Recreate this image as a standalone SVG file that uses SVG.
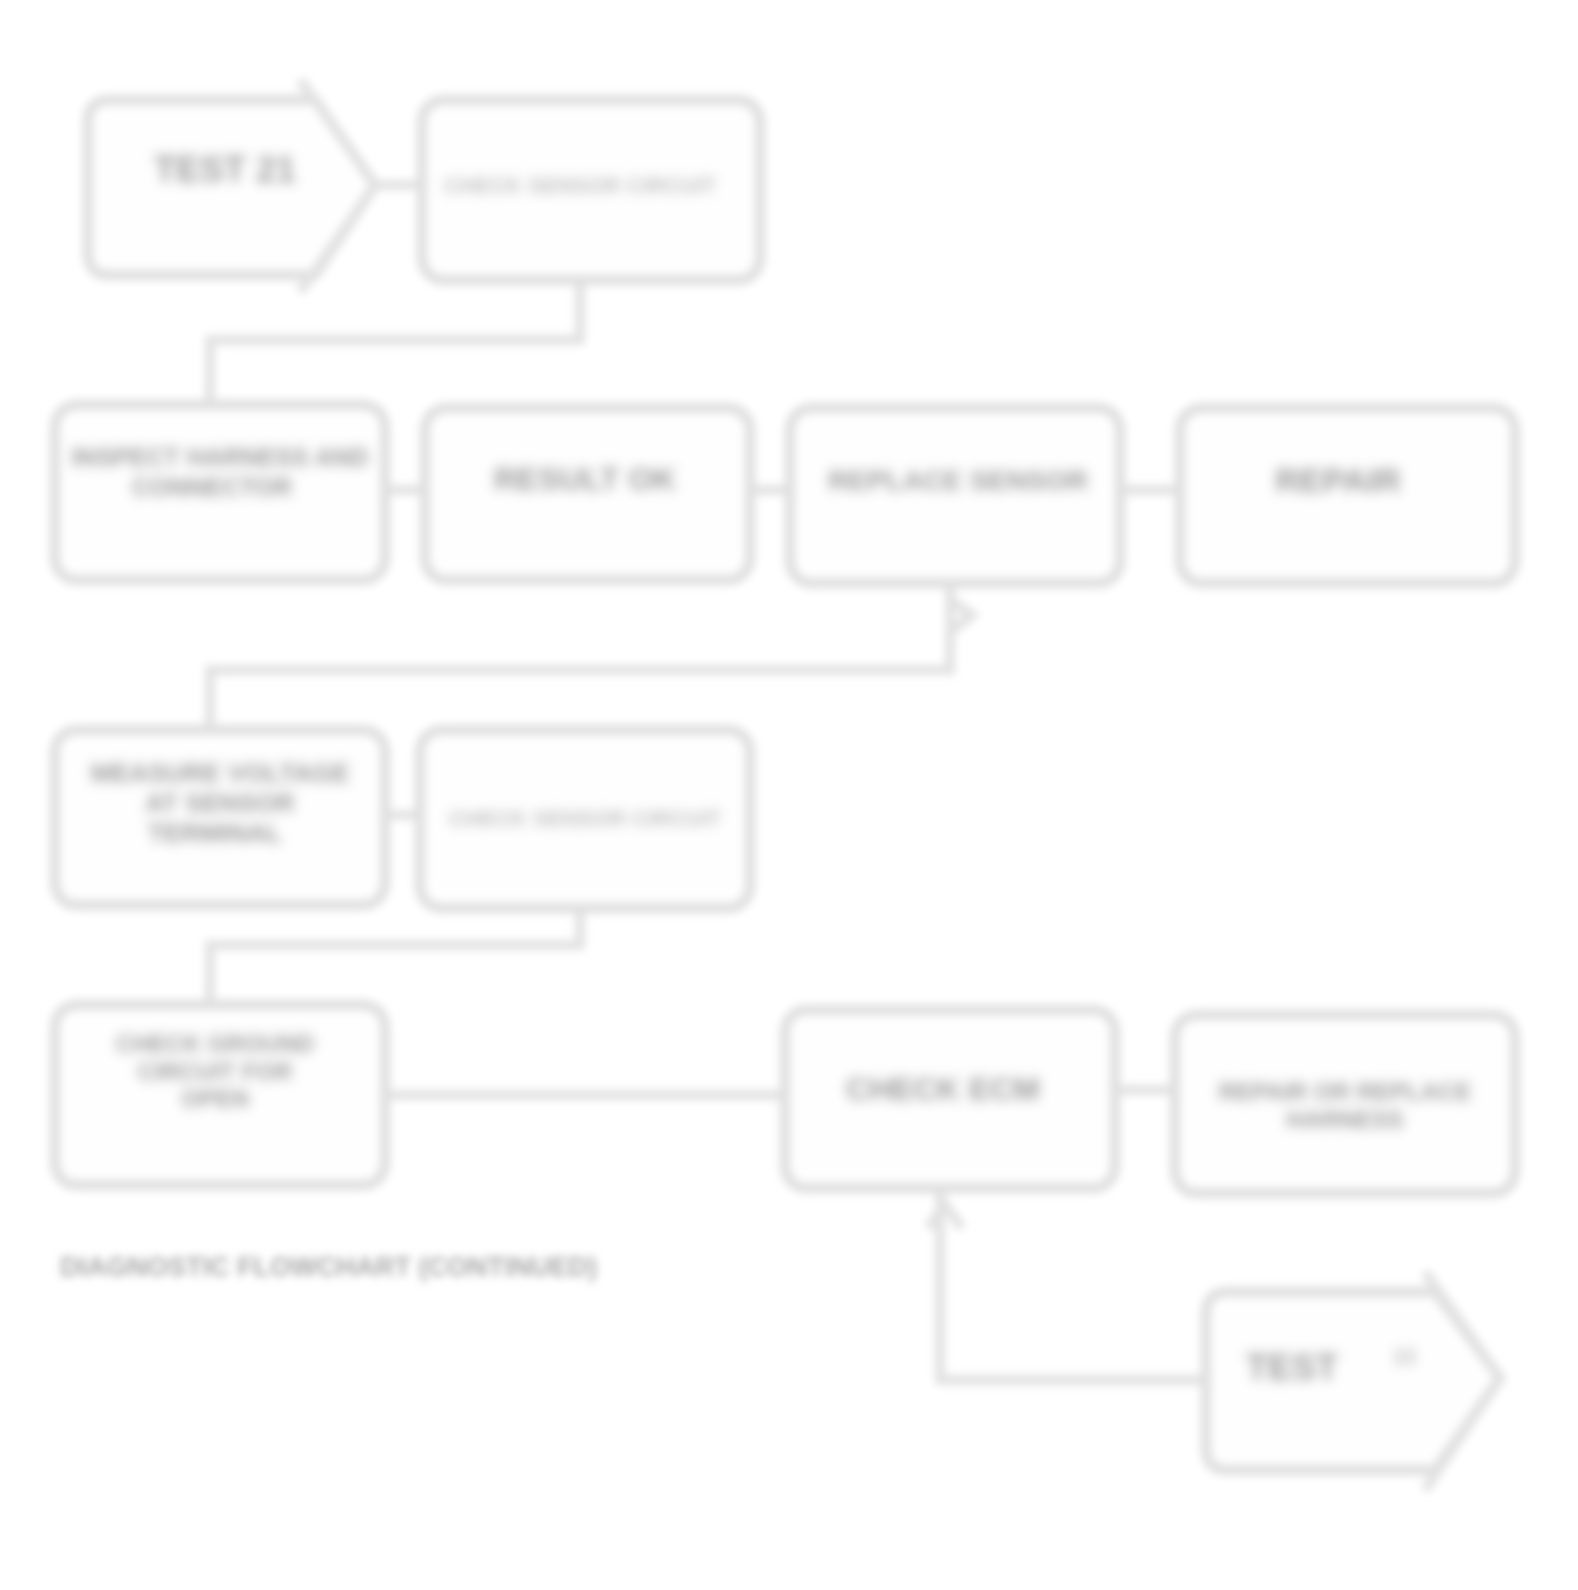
<svg xmlns="http://www.w3.org/2000/svg" width="1578" height="1590" viewBox="0 0 1578 1590">
<defs>
<filter id="blur" x="-5%" y="-5%" width="110%" height="110%"><feGaussianBlur stdDeviation="4.5"/></filter>
<filter id="tblur" x="-10%" y="-30%" width="120%" height="160%"><feGaussianBlur stdDeviation="4"/></filter>
<style>
.box{fill:#fefefe;stroke:#e0e0e0;stroke-width:11}
.ln{fill:none;stroke:#e2e2e2;stroke-width:10}
.t{font-family:"Liberation Sans",Arial,sans-serif;font-weight:bold;fill:#9a9a9a;text-anchor:middle}
.ts{font-family:"Liberation Sans",Arial,sans-serif;font-weight:bold;fill:#bdbdbd;text-anchor:middle}
</style>
</defs>
<rect width="1578" height="1590" fill="#ffffff"/>
<g filter="url(#blur)">
<g id="connectors">
<path class="ln" d="M375 185 L420 185"/>
<path class="ln" d="M580 280 L580 340 L210 340 L210 402"/>
<path class="ln" d="M385 490 L425 490"/>
<path class="ln" d="M750 490 L790 490"/>
<path class="ln" d="M1120 490 L1180 490"/>
<path class="ln" d="M950 583 L950 670 L210 670 L210 730"/>
<path class="ln" d="M950 600 L972 615 L950 632"/>
<path class="ln" d="M385 815 L420 815"/>
<path class="ln" d="M580 908 L580 945 L210 945 L210 1005"/>
<path class="ln" d="M385 1095 L785 1095"/>
<path class="ln" d="M1115 1090 L1175 1090"/>
<path class="ln" d="M1205 1380 L940 1380 L940 1190"/>
<path class="ln" d="M928 1228 L945 1205 L962 1228"/>
</g>
<g id="nodeA">
<path class="box" d="M110 100 L315 100 L375 185 L315 275 L110 275 Q88 275 88 253 L88 122 Q88 100 110 100 Z"/>
<path class="ln" d="M300 80 L375 185 L300 292"/>
<text class="t" x="225" y="182" font-size="36" filter="url(#tblur)">TEST 21</text>
</g>
<g id="nodeB">
<rect class="box" x="422" y="100" width="338" height="180" rx="22"/>
<text class="ts" x="580" y="193" font-size="22" filter="url(#tblur)">CHECK SENSOR CIRCUIT</text>
</g>
<g id="nodeC">
<rect class="box" x="55" y="405" width="330" height="175" rx="22"/>
<text class="t" x="220" y="466" font-size="25" filter="url(#tblur)">INSPECT HARNESS AND</text>
<text class="t" x="212" y="496" font-size="25" filter="url(#tblur)">CONNECTOR</text>
</g>
<g id="nodeD">
<rect class="box" x="425" y="408" width="325" height="172" rx="22"/>
<text class="t" x="585" y="490" font-size="32" filter="url(#tblur)">RESULT OK</text>
</g>
<g id="nodeE">
<rect class="box" x="790" y="408" width="330" height="175" rx="22"/>
<text class="t" x="958" y="490" font-size="28" filter="url(#tblur)">REPLACE SENSOR</text>
</g>
<g id="nodeF">
<rect class="box" x="1180" y="408" width="335" height="175" rx="22"/>
<text class="t" x="1338" y="492" font-size="34" filter="url(#tblur)">REPAIR</text>
</g>
<g id="nodeG">
<rect class="box" x="55" y="730" width="330" height="175" rx="22"/>
<text class="t" x="220" y="782" font-size="26" filter="url(#tblur)">MEASURE VOLTAGE</text>
<text class="t" x="220" y="812" font-size="26" filter="url(#tblur)">AT SENSOR</text>
<text class="t" x="215" y="842" font-size="26" filter="url(#tblur)">TERMINAL</text>
</g>
<g id="nodeH">
<rect class="box" x="420" y="730" width="330" height="178" rx="22"/>
<text class="ts" x="585" y="826" font-size="22" filter="url(#tblur)">CHECK SENSOR CIRCUIT</text>
</g>
<g id="nodeI">
<rect class="box" x="55" y="1005" width="330" height="180" rx="22"/>
<text class="t" x="215" y="1052" font-size="24" filter="url(#tblur)">CHECK GROUND</text>
<text class="t" x="215" y="1080" font-size="24" filter="url(#tblur)">CIRCUIT FOR</text>
<text class="t" x="215" y="1107" font-size="24" filter="url(#tblur)">OPEN</text>
</g>
<g id="nodeJ">
<rect class="box" x="785" y="1010" width="330" height="178" rx="22"/>
<text class="t" x="943" y="1100" font-size="32" filter="url(#tblur)">CHECK ECM</text>
</g>
<g id="nodeK">
<rect class="box" x="1175" y="1015" width="340" height="178" rx="22"/>
<text class="t" x="1345" y="1100" font-size="24" filter="url(#tblur)">REPAIR OR REPLACE</text>
<text class="t" x="1345" y="1128" font-size="24" filter="url(#tblur)">HARNESS</text>
</g>
<g id="nodeL">
<path class="box" d="M1228 1292 L1435 1292 L1500 1378 L1435 1470 L1228 1470 Q1206 1470 1206 1448 L1206 1314 Q1206 1292 1228 1292 Z"/>
<path class="ln" d="M1425 1272 L1500 1378 L1425 1490"/>
<text class="t" x="1292" y="1380" font-size="36" filter="url(#tblur)">TEST</text>
<text class="ts" x="1405" y="1364" font-size="22" filter="url(#tblur)">22</text>
</g>
</g>
<g id="caption">
<text x="60" y="1276" font-family="'Liberation Sans',Arial,sans-serif" font-weight="bold" font-size="27" fill="#a8a8a8" filter="url(#tblur)">DIAGNOSTIC FLOWCHART (CONTINUED)</text>
</g>
</svg>
